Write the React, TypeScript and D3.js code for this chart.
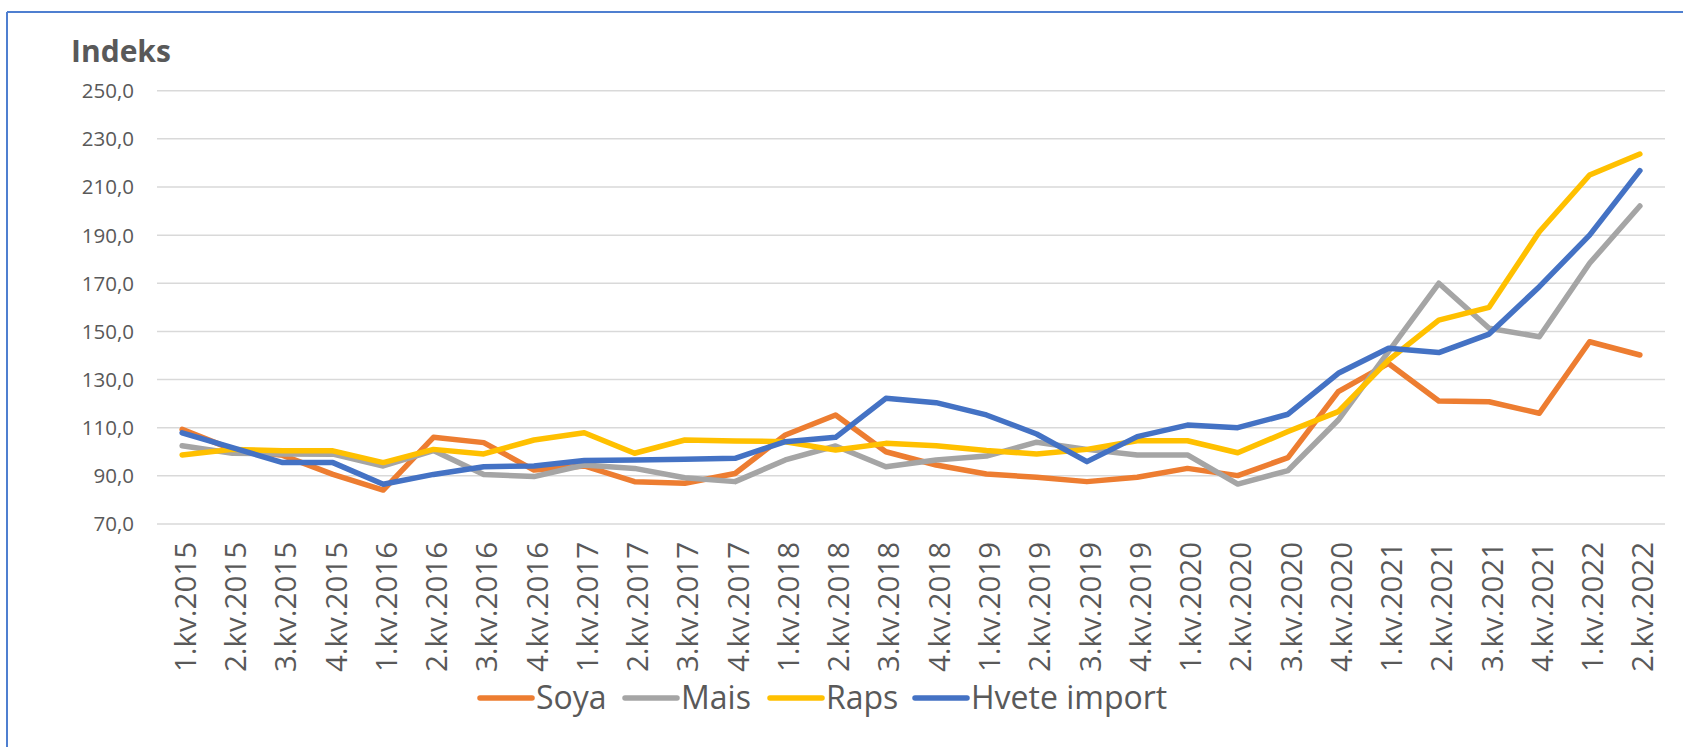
import React from "react";
import * as d3 from "d3";

const categories = [
  "1.kv.2015","2.kv.2015","3.kv.2015","4.kv.2015",
  "1.kv.2016","2.kv.2016","3.kv.2016","4.kv.2016",
  "1.kv.2017","2.kv.2017","3.kv.2017","4.kv.2017",
  "1.kv.2018","2.kv.2018","3.kv.2018","4.kv.2018",
  "1.kv.2019","2.kv.2019","3.kv.2019","4.kv.2019",
  "1.kv.2020","2.kv.2020","3.kv.2020","4.kv.2020",
  "1.kv.2021","2.kv.2021","3.kv.2021","4.kv.2021",
  "1.kv.2022","2.kv.2022",
];

const soya = [109.3,101.0,98.5,90.6,84.1,106.0,103.8,92.4,94.1,87.6,86.9,91.0,107.0,115.3,100.0,94.5,90.8,89.4,87.6,89.4,93.1,90.1,97.6,125.0,136.7,121.1,120.8,116.0,145.7,140.2];
const mais = [102.5,99.4,99.1,99.0,94.1,100.5,90.6,89.7,94.5,93.1,89.2,87.6,96.6,102.4,93.8,96.6,98.2,104.0,101.0,98.7,98.7,86.6,92.2,113.2,141.6,170.0,151.3,147.8,178.3,202.1];
const raps = [98.7,101.0,100.4,100.4,95.5,101.0,99.1,104.9,107.9,99.4,104.9,104.5,104.2,100.7,103.5,102.5,100.5,99.1,101.0,104.6,104.6,99.6,108.4,116.7,138.1,154.7,160.0,191.4,215.0,223.7];
const hvete = [107.9,101.7,95.5,95.5,86.5,90.6,93.8,94.1,96.4,96.6,96.9,97.3,104.2,106.0,122.2,120.4,115.3,107.4,95.9,106.3,111.1,110.0,115.6,132.6,143.0,141.2,148.9,168.6,190.0,216.8];

const seriesNames = ["Soya", "Mais", "Raps", "Hvete import"];
const seriesValues = [soya, mais, raps, hvete];
const seriesColors = ["#ED7D31", "#A5A5A5", "#FFC000", "#4472C4"];

const yTicks = [70, 90, 110, 130, 150, 170, 190, 210, 230, 250];

const W = 1683;
const H = 747;
const plotLeft = 157;
const plotRight = 1665;
const plotTop = 90.7;
const plotBottom = 524;

const FONT = "'Open Sans', 'Noto Sans', sans-serif";
const TEXT = "#595959";

export default function App() {
  const x = d3.scaleBand<string>().domain(categories).range([plotLeft, plotRight]);
  const cx = (c: string) => (x(c) as number) + x.bandwidth() / 2;
  const y = d3.scaleLinear().domain([70, 250]).range([plotBottom, plotTop]);
  const fmt = (v: number) => d3.format(".1f")(v).replace(".", ",");

  const line = d3
    .line<number>()
    .x((_, i) => cx(categories[i]))
    .y((v) => y(v));

  const legendX = d3.scaleLinear().domain([0, 1]).range([478, 623]);

  return (
    <svg
      width={W}
      height={H}
      style={{ position: "absolute", left: 0, top: 0, display: "block", background: "#fff" }}
    >
      <rect x={0} y={0} width={W} height={H} fill="#fff" />
      {/* chart frame */}
      <line x1={7} y1={12} x2={W} y2={12} stroke="#4F7FD0" strokeWidth={2} />
      <line x1={7} y1={12} x2={7} y2={H} stroke="#4F7FD0" strokeWidth={2} />

      {/* title */}
      <text x={71} y={62} fontFamily={FONT} fontWeight={700} fontSize={30} fill={TEXT}>
        Indeks
      </text>

      {/* gridlines + y labels */}
      {yTicks.map((t) => (
        <g key={t}>
          <line x1={plotLeft} x2={plotRight} y1={y(t)} y2={y(t)} stroke="#D9D9D9" strokeWidth={1.5} />
          <text
            x={134}
            y={y(t)}
            dy="0.36em"
            textAnchor="end"
            fontFamily={FONT}
            fontSize={20.5}
            fill={TEXT}
          >
            {fmt(t)}
          </text>
        </g>
      ))}

      {/* x labels */}
      {categories.map((c) => (
        <text
          key={c}
          transform={`translate(${cx(c) + 3},${plotBottom + 18}) rotate(-90)`}
          dy="0.36em"
          textAnchor="end"
          fontFamily={FONT}
          fontSize={29.5}
          fill={TEXT}
        >
          {c}
        </text>
      ))}

      {/* series */}
      {seriesValues.map((vals, i) => (
        <path
          key={seriesNames[i]}
          d={line(vals) as string}
          fill="none"
          stroke={seriesColors[i]}
          strokeWidth={5.5}
          strokeLinejoin="round"
          strokeLinecap="round"
        />
      ))}

      {/* legend */}
      {seriesNames.map((n, i) => {
        const lx = legendX(i);
        return (
          <g key={n}>
            <line
              x1={lx + 2}
              x2={lx + 54}
              y1={698}
              y2={698}
              stroke={seriesColors[i]}
              strokeWidth={5.5}
              strokeLinecap="round"
            />
            <text x={lx + 58} y={709} fontFamily={FONT} fontSize={32} fill={TEXT}>
              {n}
            </text>
          </g>
        );
      })}
    </svg>
  );
}
